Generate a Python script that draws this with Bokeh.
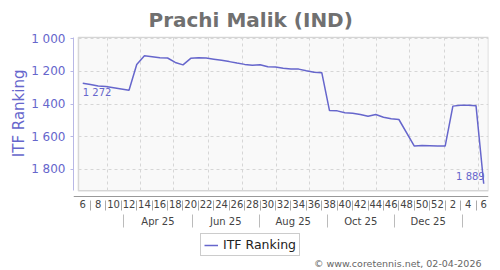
from bokeh.plotting import figure
from bokeh.models import (Range1d, FixedTicker, LinearAxis, Legend, LegendItem, Label, Title,
                          BoxAnnotation, Grid, ColumnDataSource)
from bokeh.core.properties import value
from bokeh.embed import file_html
from bokeh.resources import INLINE

# ---------------- data ----------------
TITLE = "Prachi Malik (IND)"
SERIES_NAME = "ITF Ranking"
COPYRIGHT = "\u00a9 www.coretennis.net, 02-04-2026"

# week index (0 = week 6 of 2025 ... 52 = week 6 of 2026)
WEEK_INDEX = list(range(0, 42)) + list(range(43, 53))
RANKING = [1272, 1280, 1290, 1292, 1300, 1308, 1316,
           1158, 1104, 1110, 1116, 1118, 1145, 1160,
           1120, 1116, 1118, 1125, 1132, 1140, 1149,
           1157, 1163, 1159, 1172, 1173, 1180, 1185,
           1186, 1196, 1205, 1208, 1440, 1442, 1453,
           1456, 1464, 1475, 1464, 1481, 1490, 1495,
           1658, 1655, 1656, 1657, 1658,
           1413, 1407, 1408, 1410,
           1889]

WEEK_TICK_LABELS = ["6", "8", "10", "12", "14", "16", "18", "20", "22", "24", "26", "28",
                    "30", "32", "34", "36", "38", "40", "42", "44", "46", "48", "50", "52",
                    "2", "4", "6"]
MONTH_LABELS = ["Apr 25", "Jun 25", "Aug 25", "Oct 25", "Dec 25"]
Y_TICKS = [1000, 1200, 1400, 1600, 1800]

# ---------------- layout positions (axis units) ----------------
WEEK_TICK_POS = list(range(0, 53, 2))
WEEK_SEP_POS = list(range(1, 53, 2))
MONTH_BAR_POS = [5.3, 14.2, 22.9, 31.7, 40.4, 49.2]
MONTH_LABEL_POS = [(a + b) / 2 for a, b in zip(MONTH_BAR_POS[:-1], MONTH_BAR_POS[1:])]
MONTH_GRID_POS = [3.2, 7.5, 11.8, 16.3, 20.7, 25.1, 29.4, 33.8, 38.1, 42.4, 46.9, 51.3]

X_START, X_END, BOX_LEFT = -1.2, 52.62, -0.56
# the frame extends to the bottom of the canvas; the visible plot box is smaller
Y_BOTTOM, Y_TOP, BOX_BOTTOM, BOX_TOP = 2421, 986, 1932.5, 990
WEEK_AXIS_AT, MONTH_AXIS_AT = 1969, 2061

FONT = "DejaVu Sans"
LINE_COLOR = "#6666cc"


def fmt(v):
    return f"{v:,}".replace(",", " ")


p = figure(width=500, height=270, output_backend="svg", toolbar_location=None,
           x_range=Range1d(X_START, X_END), y_range=Range1d(Y_BOTTOM, Y_TOP),
           x_axis_type=None, y_axis_type=None,
           min_border_left=73, min_border_right=12, min_border_top=35, min_border_bottom=0,
           background_fill_color="white", border_fill_color="white",
           outline_line_color=None)

# title
p.title.text = TITLE
p.title.align = "left"
p.title.offset = 75
p.title.text_font = FONT
p.title.text_font_size = "20px"
p.title.text_font_style = "bold"
p.title.text_color = "#707070"
p.title.standoff = 10

# inner plot box
box = BoxAnnotation(left=BOX_LEFT, right=X_END, top=BOX_TOP, bottom=BOX_BOTTOM,
                    fill_color="#f9f9f9", fill_alpha=1.0, line_color="#808080",
                    line_width=1.5, level="underlay")
p.add_layout(box)

xgrid = Grid(dimension=0, ticker=FixedTicker(ticks=MONTH_GRID_POS),
             cross_bounds=(BOX_TOP, BOX_BOTTOM),
             grid_line_color="#d6d6d6", grid_line_dash="3 3", grid_line_width=1)
ygrid = Grid(dimension=1, ticker=FixedTicker(ticks=Y_TICKS),
             cross_bounds=(BOX_LEFT, X_END),
             grid_line_color="#d6d6d6", grid_line_dash="3 3", grid_line_width=1)
p.add_layout(xgrid)
p.add_layout(ygrid)

# y axis
yaxis = LinearAxis(ticker=FixedTicker(ticks=Y_TICKS, minor_ticks=[]),
                   bounds=(BOX_TOP, BOX_BOTTOM),
                   major_label_overrides={t: fmt(t) for t in Y_TICKS},
                   axis_line_color="#b8b8e6", axis_line_width=1,
                   major_tick_line_color="#b8b8e6", major_tick_out=3, major_tick_in=0,
                   minor_tick_out=0, minor_tick_in=0,
                   major_label_text_color=LINE_COLOR, major_label_text_font=FONT,
                   major_label_text_font_size="12px", major_label_standoff=5)
p.add_layout(yaxis, "left")

# y axis title (placed as a side title so it stays centred on the visible box)
p.add_layout(Title(text=SERIES_NAME, align="right", offset=33, standoff=1,
                   text_font=FONT, text_font_size="15px", text_font_style="normal",
                   text_color=LINE_COLOR), "left")

# x axis: weeks (minor ticks act as the "|" separators)
xaxis1 = LinearAxis(ticker=FixedTicker(ticks=WEEK_TICK_POS, minor_ticks=WEEK_SEP_POS),
                    fixed_location=WEEK_AXIS_AT,
                    major_label_overrides=dict(zip(WEEK_TICK_POS, WEEK_TICK_LABELS)),
                    axis_line_color="#999999", axis_line_width=1,
                    major_tick_out=0, major_tick_in=0,
                    minor_tick_in=-4, minor_tick_out=14, minor_tick_line_color="#aaaaaa",
                    major_label_standoff=-11, major_label_text_font=FONT,
                    major_label_text_font_size="10px", major_label_text_color="#444444")
p.add_layout(xaxis1, "below")

# x axis: months
xaxis2 = LinearAxis(ticker=FixedTicker(ticks=MONTH_LABEL_POS, minor_ticks=MONTH_BAR_POS),
                    fixed_location=MONTH_AXIS_AT,
                    major_label_overrides=dict(zip(MONTH_LABEL_POS, MONTH_LABELS)),
                    axis_line_color=None,
                    major_tick_out=0, major_tick_in=0,
                    minor_tick_in=-3, minor_tick_out=16, minor_tick_line_color="#bbbbbb",
                    major_label_standoff=-12, major_label_text_font=FONT,
                    major_label_text_font_size="10px", major_label_text_color="#444444")
p.add_layout(xaxis2, "below")

# series
src = ColumnDataSource(data=dict(w=WEEK_INDEX, rank=RANKING))
line = p.line(x="w", y="rank", source=src, line_color=LINE_COLOR, line_width=1.5)

# end labels
p.text(x=[WEEK_INDEX[0]], y=[RANKING[0]], text=[fmt(RANKING[0])],
       text_font=value(FONT), text_font_size="10px", text_color=LINE_COLOR,
       text_align="left", text_baseline="top", x_offset=0, y_offset=4)
p.text(x=[WEEK_INDEX[-1]], y=[RANKING[-1]], text=[fmt(RANKING[-1])],
       text_font=value(FONT), text_font_size="10px", text_color=LINE_COLOR,
       text_align="right", text_baseline="bottom", x_offset=1, y_offset=-2)

legend = Legend(items=[LegendItem(label=SERIES_NAME, renderers=[line])],
                location=(127, 14), orientation="horizontal",
                border_line_color="#999999", border_line_width=1,
                background_fill_color="white", background_fill_alpha=1,
                label_text_font=FONT, label_text_font_size="12.5px", label_text_color="#222222",
                glyph_width=14, glyph_height=14, label_height=14, label_standoff=5,
                padding=3, margin=0, spacing=0)
p.add_layout(legend)

p.add_layout(Label(x=408, y=7, x_units="screen", y_units="screen", text=COPYRIGHT,
                   text_align="right", text_baseline="middle", text_font=FONT,
                   text_font_size="9.5px", text_color="#666666"))

open("out.html", "w").write(file_html(p, INLINE))
